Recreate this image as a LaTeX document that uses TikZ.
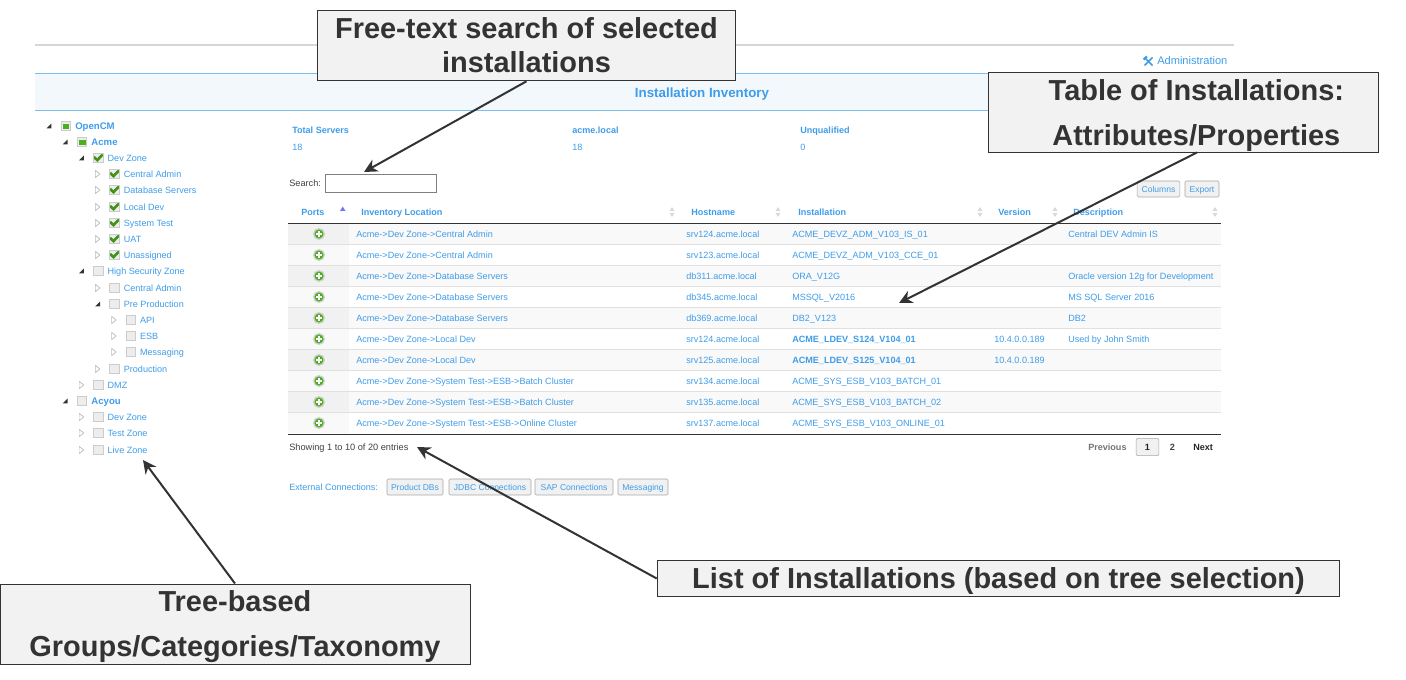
\documentclass[tikz,border=0pt]{standalone}
\usepackage{fontspec}
\setmainfont{Liberation Sans}
\usetikzlibrary{arrows.meta}
\definecolor{linkblue}{HTML}{3F9CE8}
\definecolor{bandblue}{HTML}{F3F8FD}
\definecolor{bandline}{HTML}{7FBDEC}
\definecolor{checkgreen}{HTML}{4BAF1E}
\definecolor{inkgray}{HTML}{333333}
\definecolor{calloutfill}{HTML}{F2F2F2}
\definecolor{stripelight}{HTML}{F9F9F9}
\definecolor{stripedark}{HTML}{F1F1F1}
\newcommand{\tinyfont}{\fontsize{6.8}{8}\selectfont}
\newcommand{\calloutfont}{\fontsize{21.7}{25.5}\selectfont\bfseries}
\newcommand{\widecallout}{\fontsize{21.7}{33.75}\selectfont\bfseries}

\begin{document}
\begin{tikzpicture}[x=.75pt,y=-.75pt]
	\tikzstyle{linktext}=[inner sep=0,anchor=west,text height=6.5pt,text depth=1.4pt,text=linkblue,font=\tinyfont]
	\tikzstyle{linkbold}=[linktext,font=\tinyfont\bfseries]
	\tikzstyle{treehead}=[linktext,font=\fontsize{7.2}{8}\selectfont\bfseries]
	\tikzstyle{plaintext}=[linktext,text=black!75,font=\fontsize{6.9}{8}\selectfont]
	\tikzstyle{pagebutton}=[draw=black!35,fill=stripedark,rounded corners=1pt,inner sep=0,minimum height=12pt,text height=6.5pt,text depth=1.4pt,text=linkblue,font=\fontsize{6.4}{8}\selectfont]
	\tikzstyle{treebox}=[draw=black!20,line width=.8pt,fill=black!7,inner sep=0,minimum size=7pt]
	\tikzstyle{boxnone}=[treebox]
	\tikzstyle{boxfull}=[treebox,path picture={\draw[checkgreen!85!black,line width=2pt] ([shift={(-3.4pt,.8pt)}]path picture bounding box.center) -- ++(2.6pt,-2.4pt) -- ++(4pt,4.2pt);}]
	\tikzstyle{boxpart}=[treebox,path picture={\fill[checkgreen] ([shift={(-2.6pt,-2.2pt)}]path picture bounding box.center) rectangle ++(5.2pt,3.6pt);}]
	\tikzstyle{treeopen}=[inner sep=0,minimum size=3.6pt,path picture={\fill[black!80] (path picture bounding box.north east) -- (path picture bounding box.south east) -- (path picture bounding box.south west) -- cycle;}]
	\tikzstyle{treeshut}=[inner sep=0,minimum width=3.6pt,minimum height=5.6pt,path picture={\draw[black!25,line width=.6pt] (path picture bounding box.north west) -- (path picture bounding box.east) -- (path picture bounding box.south west) -- cycle;}]
	\tikzstyle{portsicon}=[circle,draw=black!18,line width=1pt,fill=checkgreen,inner sep=0,minimum size=8pt,path picture={\draw[white,line width=1pt] ([xshift=-2.2pt]path picture bounding box.center) -- ++(4.4pt,0pt) ([yshift=-2.2pt]path picture bounding box.center) -- ++(0pt,4.4pt);}]
	\tikzstyle{callout}=[draw=inkgray,line width=.7pt,fill=calloutfill,text=inkgray,align=center,inner sep=0,font=\calloutfont]
	\tikzstyle{pointer}=[draw=inkgray,line width=1.5pt,-{Stealth[length=10pt,width=10pt]}]

	\useasboundingbox (0,0) rectangle (1406,680);

	% page header
	\draw[black!16,line width=1pt] (35,45) -- (1234,45);
	\fill[bandblue] (35,73) rectangle (1234,110);
	\draw[bandline,line width=.7pt] (35,73) -- (1234,73);
	\draw[bandline,line width=.7pt] (35,110) -- (1234,110);
	\node[linkbold,anchor=center,text height=10pt,text depth=2pt,font=\fontsize{10}{11}\selectfont\bfseries] (title) at (702,92) {Installation Inventory};
	\node[linktext,text height=7pt,font=\fontsize{8.3}{9}\selectfont] (admin) at (1157,61) {Administration};
	\draw[linkblue,line width=1.1pt] (1144.5,57.5) -- (1152.5,65.5);
	\draw[linkblue,line width=1.1pt] (1152.5,57.5) -- (1144.5,65.5);
	\draw[linkblue,line width=1.6pt] (1143.5,59.5) -- (1147,56.5);

	% tree
	\foreach \n/\lvl/\ypos/\lab/\tick/\arrowsty/\sty in {
		1/0/126/OpenCM/boxpart/treeopen/treehead,
		2/1/142/Acme/boxpart/treeopen/treehead,
		3/2/158/Dev Zone/boxfull/treeopen/linktext,
		4/3/174/Central Admin/boxfull/treeshut/linktext,
		5/3/190/Database Servers/boxfull/treeshut/linktext,
		6/3/207/Local Dev/boxfull/treeshut/linktext,
		7/3/223/System Test/boxfull/treeshut/linktext,
		8/3/239/UAT/boxfull/treeshut/linktext,
		9/3/255/Unassigned/boxfull/treeshut/linktext,
		10/2/271/High Security Zone/boxnone/treeopen/linktext,
		11/3/288/Central Admin/boxnone/treeshut/linktext,
		12/3/304/Pre Production/boxnone/treeopen/linktext,
		13/4/320/API/boxnone/treeshut/linktext,
		14/4/336/ESB/boxnone/treeshut/linktext,
		15/4/352/Messaging/boxnone/treeshut/linktext,
		16/3/369/Production/boxnone/treeshut/linktext,
		17/2/385/DMZ/boxnone/treeshut/linktext,
		18/1/401/Acyou/boxnone/treeopen/treehead,
		19/2/417/Dev Zone/boxnone/treeshut/linktext,
		20/2/433/Test Zone/boxnone/treeshut/linktext,
		21/2/450/Live Zone/boxnone/treeshut/linktext}{
		\pgfmathsetmacro{\xbase}{49+16.2*\lvl}
		\node[\arrowsty] (arrow\n) at (\xbase,\ypos) {};
		\node[\tick] (tick\n) at (\xbase+17,\ypos) {};
		\node[\sty] (tree\n) at (\xbase+26,\ypos) {\lab};
	}

	% summary
	\node[linkbold] (total) at (292,130) {Total Servers};
	\node[linktext] (totalnum) at (292,147) {18};
	\node[linkbold] (acme) at (572,130) {acme.local};
	\node[linktext] (acmenum) at (572,147) {18};
	\node[linkbold] (unqual) at (800,130) {Unqualified};
	\node[linktext] (unqualnum) at (800,147) {0};

	% search and buttons
	\node[plaintext] (searchlabel) at (289,183) {Search:};
	\node[draw=black!50,minimum width=83pt,minimum height=13.5pt,inner sep=0] (searchbox) at (380.5,183) {};
	\node[pagebutton,minimum width=32pt] (columns) at (1158.5,189) {Columns};
	\node[pagebutton,minimum width=25.5pt] (export) at (1202,189) {Export};

	% table
	\foreach \i in {1,3,5,7,9}{
		\fill[stripelight] (288,203+21*\i) rectangle (1221,223+21*\i);
		\fill[stripedark] (288,203+21*\i) rectangle (349,223+21*\i);
	}
	\foreach \i in {2,4,6,8,10}{
		\fill[stripelight] (288,203+21*\i) rectangle (349,223+21*\i);
	}
	\foreach \i in {1,...,9}{
		\draw[black!12,line width=.6pt] (288,223.5+21*\i) -- (1221,223.5+21*\i);
	}
	\draw[black!80,line width=.9pt] (288,223.5) -- (1221,223.5);
	\draw[black!80,line width=.9pt] (288,434.5) -- (1221,434.5);

	\node[linkbold] (headports) at (301,212) {Ports};
	\node[linkbold] (headloc) at (361,212) {Inventory Location};
	\node[linkbold] (headhost) at (691,212) {Hostname};
	\node[linkbold] (headinst) at (798,212) {Installation};
	\node[linkbold] (headver) at (998,212) {Version};
	\node[linkbold] (headdesc) at (1073,212) {Description};
	\fill[blue!55!white] (340,211) -- (345.5,211) -- (342.75,206.5) -- cycle;
	\foreach \xpos in {672,778,980,1055,1215}{
		\fill[black!15] (\xpos-2.5,211) -- (\xpos+2.5,211) -- (\xpos,207) -- cycle;
		\fill[black!15] (\xpos-2.5,213) -- (\xpos+2.5,213) -- (\xpos,217) -- cycle;
	}

	\foreach \i/\ypos/\loc/\host/\inst/\inststy/\ver/\desc in {
		1/234/Central Admin/srv124/ACME\_DEVZ\_ADM\_V103\_IS\_01/linktext//Central DEV Admin IS,
		2/255/Central Admin/srv123/ACME\_DEVZ\_ADM\_V103\_CCE\_01/linktext//,
		3/276/Database Servers/db311/ORA\_V12G/linktext//Oracle version 12g for Development,
		4/297/Database Servers/db345/MSSQL\_V2016/linktext//MS SQL Server 2016,
		5/318/Database Servers/db369/DB2\_V123/linktext//DB2,
		6/339/Local Dev/srv124/ACME\_LDEV\_S124\_V104\_01/linkbold/10.4.0.0.189/Used by John Smith,
		7/360/Local Dev/srv125/ACME\_LDEV\_S125\_V104\_01/linkbold/10.4.0.0.189/,
		8/381/System Test->ESB->Batch Cluster/srv134/ACME\_SYS\_ESB\_V103\_BATCH\_01/linktext//,
		9/402/System Test->ESB->Batch Cluster/srv135/ACME\_SYS\_ESB\_V103\_BATCH\_02/linktext//,
		10/423/System Test->ESB->Online Cluster/srv137/ACME\_SYS\_ESB\_V103\_ONLINE\_01/linktext//}{
		\node[portsicon] (port\i) at (319,\ypos) {};
		\node[linktext] (loc\i) at (356,\ypos) {Acme->Dev Zone->\loc};
		\node[linktext] (host\i) at (686,\ypos) {\host.acme.local};
		\node[\inststy] (inst\i) at (792,\ypos) {\inst};
		\node[linktext] (ver\i) at (994,\ypos) {\ver};
		\node[linktext] (desc\i) at (1068,\ypos) {\desc};
	}

	% below the table
	\node[plaintext] (showing) at (289,447) {Showing 1 to 10 of 20 entries};
	\node[plaintext,font=\tinyfont\bfseries,text=black!55] (previous) at (1088,447) {Previous};
	\node[pagebutton,minimum width=17pt,minimum height=13pt,text=black!85,font=\tinyfont\bfseries] (pageone) at (1147.5,447) {1};
	\node[plaintext,font=\tinyfont\bfseries,anchor=center] (pagetwo) at (1172.5,447) {2};
	\node[plaintext,font=\tinyfont\bfseries,text=black!85] (next) at (1193,447) {Next};
	\node[linktext] (external) at (289,487) {External Connections:};
	\node[pagebutton,minimum width=42pt] (productdbs) at (415,487) {Product DBs};
	\node[pagebutton,minimum width=61.5pt] (jdbc) at (490,487) {JDBC Connections};
	\node[pagebutton,minimum width=58.5pt] (sap) at (574,487) {SAP Connections};
	\node[pagebutton,minimum width=37.5pt] (messaging) at (643,487) {Messaging};

	% callouts
	\node[callout,minimum width=314pt,minimum height=53pt] (searchnote) at (526.5,45.5) {Free-text search of selected\\installations};
	\node[callout,minimum width=292.5pt,minimum height=60pt,font=\widecallout] (tablenote) at (1183,112) {\hspace*{20pt}\rule{0pt}{21.7pt}Table of Installations:\\\hspace*{20pt}Attributes/Properties};
	\node[callout,minimum width=512pt,minimum height=27.5pt] (listnote) at (998.5,578.5) {\rule{0pt}{19.6pt}List of Installations (based on tree selection)};
	\node[callout,minimum width=352.5pt,minimum height=60pt,font=\widecallout] (treenote) at (235,624) {\rule{0pt}{19.4pt}Tree-based\\Groups/Categories/Taxonomy};

	\coordinate (searchtip) at (364,172);
	\coordinate (tabletip) at (899,303);
	\coordinate (listtip) at (417,447);
	\coordinate (treetip) at (143,460);
	\draw[pointer] (searchnote.south) -- (searchtip);
	\draw[pointer] ([xshift=10.5pt]tablenote.south) -- (tabletip);
	\draw[pointer] (listnote.west) -- (listtip);
	\draw[pointer] (treenote.north) -- (treetip);
\end{tikzpicture}
\end{document}
